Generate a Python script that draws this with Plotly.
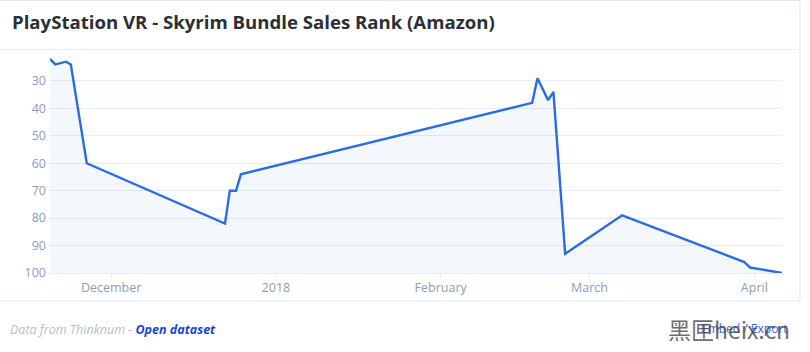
import plotly.graph_objects as go

dates = [
    "2017-11-19 12:00", "2017-11-20 12:00", "2017-11-22 12:00", "2017-11-23 10:00",
    "2017-11-26 10:00", "2017-12-22 10:00", "2017-12-23 08:00", "2017-12-24 12:00",
    "2017-12-25 10:00", "2018-02-18 05:00", "2018-02-19 05:00", "2018-02-21 05:00",
    "2018-02-22 05:00", "2018-02-24 10:00", "2018-03-07 03:00", "2018-03-30 03:00",
    "2018-03-31 05:00", "2018-04-06 05:00",
]
ranks = [22, 24, 23, 24, 60, 82, 70, 70, 64, 38, 29, 37, 34, 93, 79, 96, 98, 100]

ytick_vals = [30, 40, 50, 60, 70, 80, 90, 100]
xtick_vals = ["2017-12-01", "2018-01-01", "2018-02-01", "2018-03-01", "2018-04-01"]
xtick_text = ["December", "2018", "February", "March", "April"]

line_color = "#2b6de0"
label_color = "#8e9db6"
grid_color = "#e3ecf7"

H = 222.3  # plot height px
B = 273    # plot bottom px


def py(px):
    return (B - px) / H


def px_x(px):
    return (px - 50) / 732


fig = go.Figure()
fig.add_trace(go.Scatter(
    x=[dates[0], dates[-1]], y=[100, 100], mode="lines",
    line=dict(width=0), hoverinfo="skip", showlegend=False,
))
fig.add_trace(go.Scatter(
    x=dates, y=ranks, mode="lines", fill="tonexty",
    fillcolor="rgba(43,109,224,0.05)",
    line=dict(color=line_color, width=2.4), showlegend=False,
))

fig.update_layout(
    width=810, height=352,
    margin=dict(l=50, r=28, t=51, b=79),
    paper_bgcolor="white", plot_bgcolor="white",
    font=dict(family="Open Sans, sans-serif", color=label_color, size=12),
    xaxis=dict(
        type="date", range=[dates[0], dates[-1]],
        tickvals=xtick_vals, ticktext=xtick_text,
        showgrid=False, zeroline=False, showline=True, linecolor=grid_color,
        ticks="outside", ticklen=5, tickcolor=grid_color,
        ticklabelstandoff=-2,
        tickfont=dict(size=12.5, color=label_color),
    ),
    yaxis=dict(
        range=[100, 19.1], tickvals=ytick_vals,
        showgrid=True, gridcolor=grid_color, zeroline=False,
        ticks="", tickfont=dict(size=12.5, color=label_color),
        ticklabelstandoff=3,
    ),
    shapes=[
        dict(type="rect", xref="paper", yref="paper", x0=px_x(-1), x1=px_x(800),
             y0=py(301), y1=py(0), line=dict(color="#dbe7f4", width=1),
             layer="below"),
        dict(type="line", xref="paper", yref="paper", x0=px_x(0), x1=px_x(800),
             y0=py(49), y1=py(49), line=dict(color="#e6edf5", width=1)),
    ],
    annotations=[
        dict(text="<b>PlayStation VR - Skyrim Bundle Sales Rank (Amazon)</b>",
             xref="paper", yref="paper", x=px_x(10), y=py(21),
             xanchor="left", yanchor="middle", showarrow=False,
             font=dict(size=18.6, color="#2b2f36", family="Open Sans, sans-serif")),
        dict(text="<i>Data from Thinknum - </i><b><i><span style='color:#1747d4'>Open dataset</span></i></b>",
             xref="paper", yref="paper", x=px_x(8), y=py(330),
             xanchor="left", yanchor="middle", showarrow=False,
             font=dict(size=12.5, color="#b3bfcf", family="Open Sans, sans-serif")),
        dict(text="Embed / Export", xref="paper", yref="paper", x=px_x(790),
             y=py(329), xanchor="right", yanchor="middle", showarrow=False,
             font=dict(size=12, color="#2f6be0")),
        dict(text="黑匣heix.cn", xref="paper", yref="paper", x=px_x(792),
             y=py(329), xanchor="right", yanchor="middle", showarrow=False,
             font=dict(size=23, color="rgba(70,70,70,0.8)",
                       family="Noto Sans CJK SC, sans-serif")),
    ],
)

fig.write_html("out.html")
